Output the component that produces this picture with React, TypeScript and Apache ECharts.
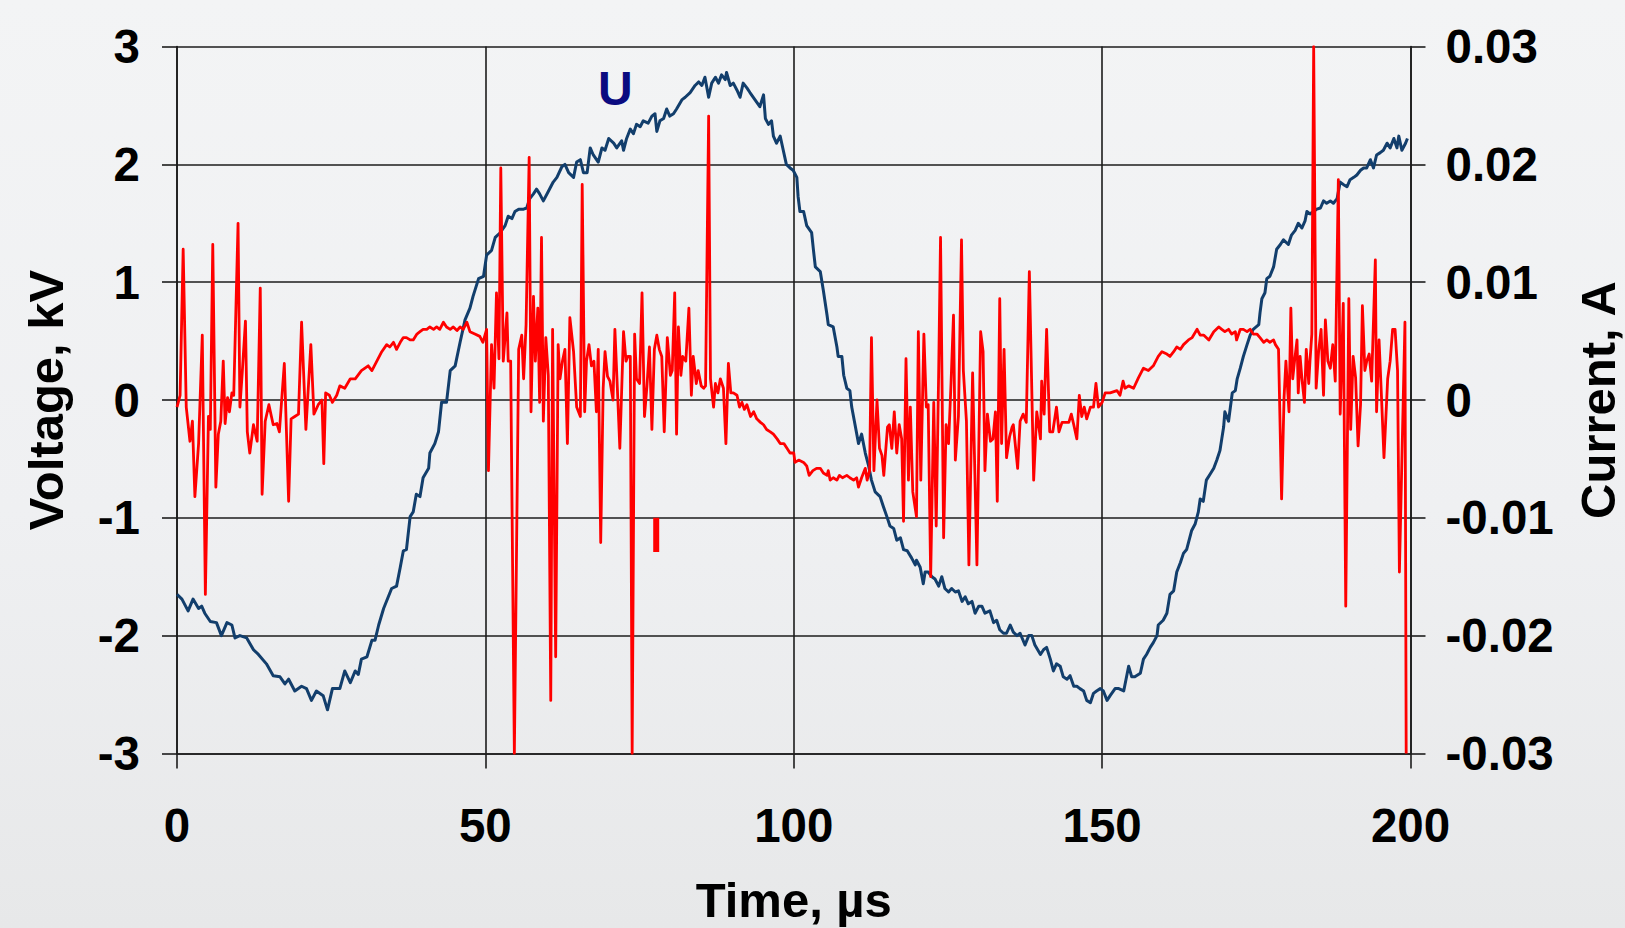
import React, { useEffect, useRef } from "react";
import * as echarts from "echarts";

const FONT = "'Liberation Sans', Arial, Helvetica, sans-serif";

// Tick values / labels
const timeTicks = [0, 50, 100, 150, 200];
const voltageTicks = [-3, -2, -1, 0, 1, 2, 3];
const currentTickLabels = ["-0.03", "-0.02", "-0.01", "0", "0.01", "0.02", "0.03"];

// Voltage U (kV) vs time (µs)
const voltagePoints: [number, number][] = [
  [0, -1.65], [0.8, -1.69], [1.8, -1.79], [2.6, -1.69], [3.5, -1.77], [4.0, -1.75], [4.5, -1.81], [5.4, -1.88],
  [6.4, -1.89], [7.2, -2.0], [8.1, -1.89], [8.9, -1.91], [9.4, -2.02], [10.2, -2.0], [11.3, -2.02], [12.4, -2.12],
  [13.2, -2.16], [14.5, -2.24], [15.6, -2.34], [16.7, -2.35], [17.5, -2.41], [18.1, -2.37], [19.1, -2.47], [20.2, -2.43],
  [21.0, -2.45], [21.8, -2.55], [22.6, -2.47], [23.7, -2.51], [24.4, -2.63], [25.2, -2.45], [26.4, -2.45], [27.2, -2.3],
  [28.1, -2.4], [28.9, -2.3], [29.4, -2.33], [29.9, -2.2], [30.8, -2.18], [31.6, -2.04], [32.1, -2.04], [32.7, -1.91],
  [33.5, -1.77], [34.8, -1.6], [35.6, -1.58], [36.2, -1.42], [36.7, -1.28], [37.2, -1.27], [37.8, -0.99], [38.3, -0.95],
  [38.8, -0.8], [39.4, -0.82], [39.9, -0.66], [40.8, -0.58], [41.0, -0.45], [41.8, -0.37], [42.4, -0.27], [42.9, -0.02],
  [43.7, -0.02], [44.3, 0.25], [45.1, 0.29], [45.9, 0.49], [46.7, 0.68], [47.5, 0.78], [48.0, 0.88], [48.9, 1.03],
  [49.7, 1.05], [50.2, 1.23], [51.0, 1.27], [51.6, 1.38], [52.4, 1.42], [53.2, 1.48], [53.7, 1.56], [54.3, 1.54],
  [54.8, 1.6], [55.4, 1.62], [56.2, 1.62], [56.7, 1.63], [57.2, 1.71], [57.8, 1.75], [58.3, 1.79], [58.8, 1.75],
  [59.4, 1.69], [60.2, 1.77], [61.0, 1.85], [61.6, 1.89], [62.4, 1.98], [62.9, 2.0], [63.5, 1.93], [64.3, 1.89],
  [64.8, 2.02], [65.4, 2.04], [65.9, 1.93], [66.5, 1.93], [67.0, 2.14], [67.5, 2.08], [68.3, 2.02], [68.9, 2.14],
  [69.4, 2.12], [70.0, 2.22], [70.8, 2.18], [71.3, 2.14], [72.1, 2.2], [72.4, 2.12], [72.9, 2.22], [73.5, 2.3],
  [74.0, 2.26], [74.5, 2.34], [75.1, 2.32], [75.6, 2.37], [76.4, 2.35], [77.0, 2.41], [77.5, 2.43], [77.8, 2.28],
  [78.3, 2.37], [78.9, 2.39], [79.4, 2.47], [79.9, 2.41], [80.5, 2.43], [81.0, 2.47], [81.9, 2.55], [82.4, 2.57],
  [83.2, 2.61], [84.0, 2.67], [84.6, 2.7], [85.1, 2.67], [85.6, 2.74], [86.2, 2.57], [86.7, 2.69], [87.3, 2.74],
  [87.8, 2.69], [88.3, 2.76], [88.9, 2.72], [89.1, 2.78], [89.7, 2.67], [90.2, 2.69], [90.8, 2.63], [91.3, 2.57],
  [91.8, 2.69], [92.4, 2.65], [92.9, 2.61], [93.7, 2.55], [94.5, 2.49], [95.1, 2.59], [95.4, 2.39], [95.9, 2.34],
  [96.4, 2.37], [96.7, 2.24], [97.2, 2.18], [97.8, 2.24], [98.3, 2.12], [98.8, 2.0], [99.4, 1.97], [99.9, 1.95],
  [100.5, 1.89], [100.7, 1.73], [101.0, 1.6], [101.6, 1.6], [102.1, 1.48], [102.9, 1.42], [103.2, 1.27], [103.5, 1.13],
  [104.3, 1.09], [104.8, 0.93], [105.4, 0.72], [105.6, 0.64], [106.4, 0.62], [107.0, 0.45], [107.2, 0.37], [107.8, 0.37],
  [108.1, 0.21], [108.6, 0.1], [109.1, 0.08], [109.4, -0.06], [109.9, -0.2], [110.5, -0.37], [111.0, -0.29], [111.6, -0.45],
  [112.1, -0.55], [112.6, -0.68], [113.2, -0.78], [114.0, -0.82], [114.5, -0.9], [115.1, -0.99], [115.6, -1.07], [116.2, -1.09],
  [116.7, -1.19], [117.3, -1.17], [117.8, -1.27], [118.4, -1.28], [119.1, -1.34], [119.7, -1.4], [119.9, -1.36], [120.5, -1.42],
  [121.0, -1.56], [121.3, -1.46], [121.8, -1.46], [122.4, -1.5], [122.9, -1.52], [123.5, -1.58], [124.0, -1.5], [124.5, -1.6],
  [125.1, -1.63], [125.6, -1.6], [126.2, -1.63], [126.7, -1.62], [127.3, -1.71], [127.8, -1.67], [128.3, -1.73], [128.9, -1.71],
  [129.4, -1.81], [130.0, -1.75], [130.5, -1.75], [131.0, -1.81], [131.8, -1.79], [132.4, -1.89], [132.9, -1.87], [133.4, -1.95],
  [134.0, -1.98], [134.5, -1.98], [135.1, -1.91], [135.6, -1.97], [136.2, -2.0], [136.7, -1.98], [137.5, -2.08], [138.1, -2.0],
  [138.6, -2.0], [139.1, -2.08], [140.0, -2.16], [140.5, -2.12], [141.0, -2.1], [141.6, -2.2], [142.1, -2.3], [142.6, -2.24],
  [143.2, -2.26], [143.7, -2.35], [144.3, -2.37], [144.8, -2.34], [145.4, -2.43], [145.9, -2.43], [146.4, -2.45], [147.0, -2.47],
  [147.5, -2.55], [148.1, -2.57], [148.6, -2.49], [149.1, -2.47], [149.7, -2.45], [150.2, -2.47], [150.8, -2.55], [151.3, -2.51],
  [152.1, -2.45], [152.7, -2.45], [153.5, -2.47], [154.3, -2.26], [154.8, -2.35], [155.3, -2.35], [156.2, -2.32], [156.7, -2.2],
  [157.2, -2.16], [157.8, -2.1], [158.3, -2.06], [158.9, -2.0], [159.1, -1.91], [159.9, -1.87], [160.5, -1.81], [161.0, -1.65],
  [161.6, -1.62], [162.1, -1.46], [162.7, -1.38], [163.2, -1.3], [163.7, -1.27], [164.5, -1.11], [165.1, -1.05], [165.6, -0.95],
  [165.9, -0.84], [166.4, -0.86], [166.9, -0.68], [167.5, -0.63], [168.1, -0.58], [168.6, -0.51], [169.1, -0.43], [169.4, -0.33],
  [169.7, -0.23], [169.9, -0.1], [170.5, -0.18], [170.8, -0.06], [171.1, 0.06], [171.6, 0.08], [171.9, 0.18], [172.4, 0.27],
  [172.9, 0.37], [173.5, 0.47], [174.0, 0.55], [174.5, 0.6], [175.4, 0.64], [175.6, 0.74], [175.9, 0.86], [176.4, 0.91],
  [176.7, 1.03], [177.2, 1.05], [177.8, 1.13], [178.3, 1.28], [178.9, 1.32], [179.4, 1.36], [180.2, 1.32], [180.7, 1.4],
  [181.3, 1.44], [181.8, 1.5], [182.4, 1.46], [182.9, 1.52], [183.2, 1.6], [183.7, 1.58], [184.3, 1.6], [184.8, 1.62],
  [185.4, 1.63], [185.9, 1.69], [186.4, 1.67], [187.0, 1.69], [187.5, 1.67], [188.1, 1.71], [188.6, 1.85], [189.1, 1.83],
  [189.7, 1.81], [190.2, 1.87], [190.8, 1.89], [191.3, 1.91], [191.9, 1.95], [192.4, 1.97], [192.9, 1.97], [193.5, 2.04],
  [194.0, 1.97], [194.5, 2.08], [195.1, 2.1], [195.6, 2.12], [196.2, 2.18], [196.7, 2.14], [197.3, 2.22], [197.8, 2.14],
  [198.1, 2.24], [198.6, 2.12], [199.2, 2.18], [199.5, 2.22],
];

// Current (A) vs time (µs)
const currentPoints: [number, number][] = [
  [0, -0.0006], [0.5, 0.0004], [1.0, 0.0128], [1.5, -0.0006], [2.1, -0.0035], [2.5, -0.0018], [2.9, -0.0082], [3.5, -0.0037],
  [4.1, 0.0055], [4.6, -0.0165], [5.1, -0.0014], [5.4, -0.0025], [5.8, 0.0132], [6.3, -0.0074], [6.7, -0.0029], [7.1, -0.0018],
  [7.5, 0.0033], [7.8, -0.002], [8.2, 0.0002], [8.5, -0.001], [8.9, 0.0006], [9.2, 0.0004], [9.9, 0.015], [10.2, -0.0006],
  [10.6, 0.0025], [11.1, 0.0067], [11.4, -0.0027], [11.8, -0.0045], [12.4, -0.0021], [13.0, -0.0035], [13.5, 0.0095], [13.8, -0.008],
  [14.3, -0.0018], [14.9, -0.0004], [15.6, -0.0021], [16.2, -0.002], [16.6, -0.0027], [17.4, 0.0031], [18.1, -0.0086], [18.5, -0.0016],
  [19.1, -0.0014], [19.7, -0.0012], [20.2, 0.0066], [20.9, -0.0025], [21.7, 0.0047], [22.2, -0.0012], [22.9, -0.0004], [23.5, 0],
  [23.8, -0.0054], [24.1, 0.0006], [24.7, 0.0004], [25.2, -0.0002], [25.9, 0.0004], [26.4, 0.0012], [27.2, 0.001], [28.1, 0.0018],
  [28.9, 0.0018], [29.9, 0.0025], [31.0, 0.0029], [31.6, 0.0025], [32.4, 0.0033], [33.2, 0.0041], [34.0, 0.0047], [34.5, 0.0045],
  [35.1, 0.0049], [35.6, 0.0043], [36.2, 0.0049], [36.7, 0.0053], [37.2, 0.0053], [37.8, 0.0051], [38.3, 0.0051], [38.9, 0.0056],
  [39.4, 0.0058], [39.9, 0.006], [40.5, 0.006], [41.0, 0.0062], [41.6, 0.006], [42.1, 0.0062], [42.6, 0.006], [43.2, 0.0066],
  [43.7, 0.0062], [44.3, 0.006], [44.8, 0.0062], [45.4, 0.0059], [45.9, 0.0062], [46.4, 0.006], [47.0, 0.0066], [47.5, 0.0058],
  [48.3, 0.0056], [49.1, 0.0054], [49.6, 0.0049], [50.2, 0.006], [50.5, -0.006], [51.0, 0.0047], [51.4, 0.001], [51.8, 0.0091],
  [52.2, 0.0035], [52.5, 0.0197], [52.9, 0.0033], [53.5, 0.0074], [53.7, 0.0033], [54.1, 0.0033], [54.7, -0.03], [55.4, 0.0043],
  [55.9, 0.0055], [56.2, 0.0018], [56.6, 0.0064], [57.1, 0.0206], [57.4, -0.001], [57.8, 0.0088], [58.1, 0.0033], [58.5, 0.0078],
  [58.8, -0.0002], [59.1, 0.0138], [59.4, -0.0018], [59.8, 0.0053], [60.2, 0.0021], [60.6, -0.0255], [60.9, 0.006], [61.4, -0.0218],
  [61.8, 0.0047], [62.1, 0.0018], [62.5, 0.0033], [62.9, 0.0043], [63.3, -0.0037], [63.7, 0.007], [64.3, 0.0041], [64.8, -0.0006],
  [65.4, -0.0014], [65.7, 0.0183], [66.1, -0.001], [66.4, 0.0033], [66.8, 0.0047], [67.2, 0.0029], [67.6, 0.0033], [68.0, -0.001],
  [68.3, 0.0043], [68.7, -0.0121], [69.1, 0.001], [69.4, 0.0041], [69.8, 0.002], [70.2, 0.0016], [70.7, 0], [71.0, 0.006],
  [71.4, 0.001], [71.8, -0.0041], [72.4, 0.0058], [72.8, 0.0033], [73.1, 0.0037], [73.5, 0.0037], [73.8, -0.03], [74.2, 0.0056],
  [74.5, 0.0018], [75.0, 0.0014], [75.4, 0.0091], [75.8, -0.0014], [76.2, 0.0012], [76.6, 0.0045], [77.0, -0.0025], [77.4, 0.0043],
  [77.8, 0.0055], [78.2, 0.0043], [78.6, 0.0037], [79.0, -0.0027], [79.5, 0.0053], [80.0, 0.0021], [80.3, 0.0025], [80.7, 0.0091],
  [81.0, -0.0029], [81.3, 0.0062], [81.7, 0.0021], [82.0, 0.0037], [82.5, 0.0033], [83.0, 0.0078], [83.4, 0.0004], [83.7, 0.0037],
  [84.2, 0.0014], [84.5, 0.0025], [85.0, 0.0012], [85.4, 0.001], [85.7, 0.0012], [86.2, 0.0241], [86.5, 0.0018], [87.0, -0.0006],
  [87.3, 0.0014], [87.7, 0.0006], [88.1, 0.0018], [88.6, 0.001], [89.0, -0.0037], [89.4, 0.0031], [89.8, 0.0006], [90.2, 0.0006],
  [90.8, 0.0004], [91.2, -0.0006], [91.6, -0.0002], [92.0, -0.0008], [92.4, -0.0004], [93.0, -0.0014], [93.5, -0.001], [94.0, -0.0016],
  [94.6, -0.0019], [95.1, -0.0021], [95.6, -0.0025], [96.2, -0.0027], [96.7, -0.0029], [97.3, -0.0033], [97.8, -0.0037], [98.4, -0.0037],
  [98.9, -0.0041], [99.4, -0.0045], [100.0, -0.0045], [100.2, -0.0053], [100.8, -0.0051], [101.6, -0.0053], [102.1, -0.0056], [102.5, -0.0064],
  [103.1, -0.006], [103.7, -0.0058], [104.3, -0.0058], [104.8, -0.0062], [105.4, -0.0064], [105.6, -0.006], [105.9, -0.0068], [106.4, -0.0066],
  [107.0, -0.0068], [107.4, -0.0064], [107.9, -0.0066], [108.6, -0.0064], [109.1, -0.0066], [109.7, -0.0068], [110.2, -0.0066], [110.5, -0.0074],
  [111.0, -0.0066], [111.6, -0.0058], [111.9, -0.0068], [112.3, -0.006], [112.6, 0.0053], [113.0, -0.006], [113.5, 0], [113.9, -0.0041],
  [114.3, -0.0047], [114.6, -0.0064], [115.2, -0.0023], [115.5, -0.0021], [115.9, -0.0041], [116.3, -0.001], [116.7, -0.0045], [117.1, -0.0021],
  [117.5, -0.0033], [117.8, -0.0103], [118.2, 0.0035], [118.6, -0.0068], [118.9, -0.0006], [119.3, -0.0078], [119.9, -0.0099], [120.2, 0.0058],
  [120.6, -0.0068], [121.1, 0.0056], [121.5, -0.0006], [121.8, -0.0004], [122.2, -0.015], [122.7, -0.0002], [123.1, -0.0107], [123.5, 0.0025],
  [123.8, 0.0138], [124.3, -0.0117], [124.7, -0.0021], [125.1, -0.0037], [125.5, 0.0014], [125.9, 0.0072], [126.2, -0.0051], [126.7, -0.0014],
  [127.2, 0.0136], [127.5, 0.0025], [128.0, -0.0018], [128.4, -0.014], [129.0, 0.0023], [129.7, -0.014], [130.3, 0.0058], [130.7, 0.0041],
  [131.0, -0.006], [131.4, -0.0012], [131.9, -0.0035], [132.3, -0.0033], [132.7, -0.001], [133.0, -0.0086], [133.4, 0.0086], [133.7, -0.0037],
  [134.1, 0.0043], [134.5, -0.0049], [135.0, -0.0031], [135.4, -0.0023], [135.6, -0.0021], [136.3, -0.0058], [136.7, -0.0018], [137.2, -0.0012],
  [137.7, -0.0019], [138.2, 0.0109], [138.9, -0.0068], [139.4, -0.001], [140.0, -0.0033], [140.2, 0.0016], [140.6, -0.0012], [141.0, 0.006],
  [141.5, -0.0027], [142.0, -0.0027], [142.6, -0.0006], [143.0, -0.0027], [143.5, -0.0019], [144.0, -0.0019], [144.6, -0.0019], [145.0, -0.0012],
  [145.4, -0.0021], [145.9, -0.0033], [146.3, 0.0004], [146.7, -0.0014], [147.1, -0.0006], [147.5, -0.0016], [148.1, -0.0006], [148.6, -0.0006],
  [149.0, 0.0014], [149.4, -0.0006], [150.0, -0.0002], [150.5, 0.0006], [151.3, 0.0006], [152.4, 0.0008], [152.9, 0.0004], [153.4, 0.0016],
  [153.7, 0.001], [154.3, 0.0012], [155.1, 0.001], [155.9, 0.0019], [156.7, 0.0027], [157.5, 0.0025], [158.3, 0.0029], [159.1, 0.0037],
  [159.7, 0.0041], [160.5, 0.0039], [161.0, 0.0037], [161.6, 0.0041], [162.1, 0.0045], [162.7, 0.0043], [163.2, 0.0047], [164.0, 0.0051],
  [164.6, 0.0053], [165.4, 0.006], [165.9, 0.0055], [166.5, 0.0055], [167.3, 0.0051], [168.1, 0.0058], [168.9, 0.0062], [169.4, 0.006],
  [169.9, 0.0058], [170.5, 0.006], [171.0, 0.0056], [171.6, 0.0058], [171.8, 0.0051], [172.4, 0.006], [172.9, 0.006], [173.5, 0.0058],
  [174.0, 0.006], [174.5, 0.0056], [175.1, 0.0056], [175.6, 0.0053], [176.2, 0.0049], [176.7, 0.0051], [177.2, 0.0049], [177.8, 0.0051],
  [178.1, 0.0047], [178.6, 0.0043], [179.1, -0.0084], [179.5, 0.0002], [179.8, 0.0033], [180.3, -0.001], [180.6, 0.0078], [180.9, 0.0018],
  [181.2, 0.0033], [181.6, 0.0051], [181.8, 0.0006], [182.1, 0.0037], [182.4, 0.0018], [182.8, -0.0002], [183.1, 0.0043], [183.5, 0.0014],
  [183.7, 0.0033], [184.0, 0.0056], [184.3, 0.03], [184.7, 0.001], [185.1, 0.0041], [185.5, 0.006], [185.9, 0.0004], [186.2, 0.0068],
  [186.6, 0.0033], [187.0, 0.0027], [187.4, 0.0047], [187.8, 0.0016], [188.3, 0.0187], [188.6, -0.0012], [189.1, 0.0082], [189.5, -0.0175],
  [190.0, 0.0086], [190.3, -0.0025], [190.7, 0.0037], [191.1, 0.0019], [191.5, -0.0039], [191.9, -0.0004], [192.2, 0.008], [192.6, 0.0025],
  [192.9, 0.0033], [193.3, 0.0039], [193.7, 0.0016], [194.3, 0.0119], [194.5, -0.001], [194.9, 0.0051], [195.3, 0.0002], [195.7, -0.0049],
  [196.3, 0.0018], [196.7, 0.0033], [197.1, 0.006], [197.5, 0.006], [197.9, 0.0025], [198.2, -0.0146], [199.1, 0.0066], [199.3, -0.03],
];

// Short isolated current fragment near 77.7 µs
const currentFragment: [number, number][] = [
  [77.7, -0.01], [77.7, -0.0129],
];

const GRID_COLOR = "#1c1c1c";
const tickLabelStyle = { fontFamily: FONT, fontSize: 47.5, fontWeight: "bold" as const, color: "#000" };
const nameStyle = { fontFamily: FONT, fontSize: 49, fontWeight: "bold" as const, color: "#000" };

export default function App() {
  const ref = useRef<HTMLDivElement>(null);

  useEffect(() => {
    document.body.style.margin = "0";
    if (!ref.current) return;
    const chart = echarts.init(ref.current, null, { renderer: "svg" });
    const option = {
      animation: false,
      backgroundColor: "transparent",
      textStyle: { fontFamily: FONT },
      grid: {
        left: 177,
        right: 214.5,
        top: 46.6,
        bottom: 174.6,
        containLabel: false,
        outerBoundsMode: "none",
      },
      xAxis: {
        type: "value",
        min: timeTicks[0],
        max: timeTicks[timeTicks.length - 1],
        interval: timeTicks[1] - timeTicks[0],
        name: "Time, µs",
        nameLocation: "middle",
        nameGap: 122,
        nameTextStyle: { ...nameStyle },
        axisLine: { show: true, onZero: false, lineStyle: { color: GRID_COLOR, width: 1.6 } },
        axisTick: { show: true, length: 15, lineStyle: { color: GRID_COLOR, width: 1.6 } },
        axisLabel: { ...tickLabelStyle, margin: 48 },
        splitLine: { show: true, lineStyle: { color: GRID_COLOR, width: 1.6 } },
      },
      yAxis: [
        {
          type: "value",
          position: "left",
          min: voltageTicks[0],
          max: voltageTicks[voltageTicks.length - 1],
          interval: 1,
          name: "Voltage, kV",
          nameLocation: "middle",
          nameRotate: 90,
          nameGap: 107,
          nameTextStyle: { ...nameStyle },
          axisLine: { show: true, onZero: false, lineStyle: { color: GRID_COLOR, width: 1.6 } },
          axisTick: { show: true, length: 15, lineStyle: { color: GRID_COLOR, width: 1.6 } },
          axisLabel: { ...tickLabelStyle, margin: 37 },
          splitLine: { show: true, lineStyle: { color: GRID_COLOR, width: 1.6 } },
        },
        {
          type: "value",
          position: "right",
          min: -0.03,
          max: 0.03,
          interval: 0.01,
          name: "Current, A",
          nameLocation: "middle",
          nameRotate: 90,
          nameGap: 163,
          nameTextStyle: { ...nameStyle },
          axisLine: { show: true, onZero: false, lineStyle: { color: GRID_COLOR, width: 1.6 } },
          axisTick: { show: true, length: 15, lineStyle: { color: GRID_COLOR, width: 1.6 } },
          axisLabel: {
            ...tickLabelStyle,
            margin: 35,
            formatter: (v: number) => currentTickLabels[Math.round(v * 100) + 3] ?? "",
          },
          splitLine: { show: false },
        },
      ],
      graphic: [
        {
          type: "text",
          left: 598,
          top: 64,
          silent: true,
          style: { text: "U", fontFamily: FONT, fontSize: 48, fontWeight: "bold", fill: "#0b0b80" },
        },
      ],
      series: [
        {
          type: "line",
          name: "U",
          data: voltagePoints,
          xAxisIndex: 0,
          yAxisIndex: 0,
          symbol: "none",
          showSymbol: false,
          silent: true,
          lineStyle: { color: "#123e6c", width: 3, join: "round" },
          z: 3,
        },
        {
          type: "line",
          name: "I",
          data: currentPoints,
          xAxisIndex: 0,
          yAxisIndex: 1,
          symbol: "none",
          showSymbol: false,
          silent: true,
          lineStyle: { color: "#ff0000", width: 2.8, join: "round" },
          z: 4,
        },
        {
          type: "line",
          name: "I-fragment",
          data: currentFragment,
          xAxisIndex: 0,
          yAxisIndex: 1,
          symbol: "none",
          showSymbol: false,
          silent: true,
          lineStyle: { color: "#ff0000", width: 6 },
          z: 4,
        },
      ],
    };
    chart.setOption(option as any);
    return () => chart.dispose();
  }, []);

  return (
    <div
      ref={ref}
      style={{
        width: 1625,
        height: 928,
        background: "linear-gradient(180deg, #f3f4f5 0%, #eff0f2 55%, #e7e8e9 100%)",
      }}
    />
  );
}
